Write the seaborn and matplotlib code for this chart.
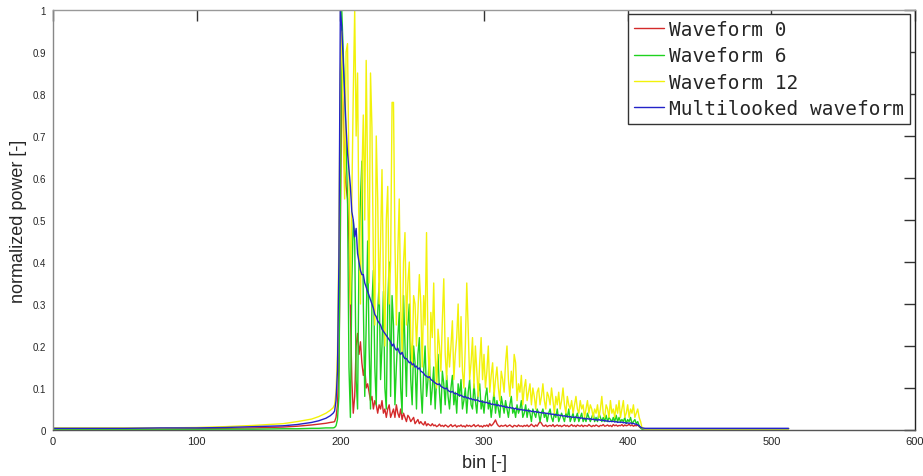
import numpy as np
import pandas as pd
import matplotlib
matplotlib.use("Agg")
import matplotlib.pyplot as plt
import seaborn as sns
from matplotlib.ticker import FuncFormatter

# ---------------- data ----------------
bins_pre = [0, 25, 50, 75, 100, 120, 140, 160, 170, 180, 185, 190, 193, 195]
bins_mid = list(range(196, 411))
bins_post = [412, 430, 460, 490, 512]

wf0_pre = [.003, .003, .003, .003, .003, .004, .005, .007, .009, .012, .014, .016, .018, .019]
wf0_mid = [
    .02, .03, .06, .15, .45, .86, .75, .62, .58, .55,
    .45, .28, .12, .04, .08, .20, .23, .18, .21, .16,
    .13, .15, .10, .11, .09, .07, .08, .05, .07, .06,
    .04, .06, .05, .07, .04, .05, .03, .05, .06, .03,
    .04, .05, .03, .06, .04, .03, .05, .025, .04, .03,
    .02, .035, .03, .02, .025, .03, .015, .02, .025, .015,
    .02, .015, .012, .02, .01, .015, .012, .01, .015, .01,
    .012, .008, .01, .014, .009, .011, .008, .012, .01, .007,
    .01, .013, .008, .01, .012, .007, .01, .009, .012, .008,
    .01, .007, .012, .009, .011, .008, .01, .013, .008, .01,
    .012, .008, .01, .007, .011, .009, .012, .008, .015, .01,
    .013, .018, .024, .015, .01, .008, .011, .009, .01, .012,
    .008, .01, .012, .009, .007, .011, .01, .008, .012, .009,
    .01, .008, .011, .009, .012, .008, .01, .014, .01, .008,
    .012, .009, .015, .02, .016, .01, .009, .012, .008, .01,
    .011, .009, .013, .008, .01, .012, .009, .011, .008, .01,
    .012, .009, .011, .008, .01, .013, .009, .011, .008, .012,
    .01, .009, .012, .008, .011, .01, .009, .013, .01, .008,
    .011, .009, .012, .01, .008, .011, .01, .013, .009, .01,
    .012, .009, .011, .008, .013, .01, .012, .009, .011, .01,
    .013, .009, .012, .01, .011, .014, .01, .012, .009, .011,
    .01, .012, .008, .005, .003,
]
wf0_post = [.003, .003, .003, .003, .003]

wf6_pre = [.002, .002, .002, .002, .002, .002, .002, .003, .003, .004, .004, .005, .005, .005]
wf6_mid = [
    .006, .01, .025, .08, .55, 1.0, .90, .80, .68, .55,
    .15, .03, .35, .50, .45, .12, .05, .42, .55, .64,
    .30, .08, .25, .45, .20, .05, .30, .38, .15, .06,
    .28, .35, .12, .20, .33, .10, .05, .30, .40, .08,
    .32, .25, .06, .15, .22, .28, .10, .04, .32, .20,
    .08, .25, .30, .12, .06, .20, .16, .05, .18, .22,
    .10, .04, .14, .20, .08, .12, .17, .06, .10, .15,
    .05, .12, .18, .09, .04, .14, .11, .06, .13, .08,
    .05, .10, .13, .06, .09, .04, .11, .08, .12, .05,
    .07, .10, .04, .09, .12, .06, .05, .11, .07, .04,
    .09, .11, .05, .07, .04, .08, .10, .05, .07, .03,
    .06, .09, .04, .07, .05, .03, .08, .06, .04, .07,
    .05, .03, .06, .08, .04, .05, .03, .06, .04, .05,
    .07, .03, .04, .06, .03, .05, .04, .02, .05, .04,
    .03, .05, .04, .02, .04, .05, .03, .04, .02, .04,
    .05, .03, .02, .04, .03, .05, .02, .03, .04, .03,
    .02, .04, .03, .05, .02, .03, .04, .02, .03, .04,
    .02, .03, .04, .02, .03, .02, .04, .03, .02, .03,
    .04, .02, .03, .02, .04, .03, .02, .03, .02, .035,
    .02, .03, .025, .02, .03, .02, .035, .02, .03, .02,
    .025, .02, .03, .015, .025, .02, .03, .015, .02, .025,
    .015, .02, .01, .005, .002,
]
wf6_post = [.003, .003, .003, .003, .003]

wf12_pre = [.005, .005, .005, .005, .006, .008, .011, .015, .02, .026, .032, .04, .047, .053]
wf12_mid = [
    .06, .09, .18, .45, .85, .95, .70, .55, .90, .92,
    .60, .30, .55, .80, 1.0, .70, .85, .45, .30, .60,
    .75, .50, .88, .60, .35, .85, .72, .40, .25, .70,
    .55, .30, .45, .62, .35, .20, .50, .58, .30, .40,
    .78, .78, .45, .25, .42, .55, .30, .18, .40, .47,
    .25, .35, .40, .22, .15, .32, .30, .20, .28, .37,
    .30, .15, .32, .25, .47, .20, .12, .28, .22, .35,
    .18, .10, .24, .20, .14, .26, .36, .18, .12, .22,
    .15, .20, .26, .12, .18, .22, .30, .15, .27, .14,
    .10, .20, .35, .24, .12, .16, .22, .10, .20, .14,
    .08, .16, .22, .12, .18, .10, .14, .20, .09, .13,
    .16, .08, .12, .15, .10, .07, .14, .12, .09, .16,
    .20, .12, .08, .14, .10, .18, .16, .07, .11, .09,
    .13, .06, .10, .12, .07, .09, .11, .06, .10, .08,
    .05, .09, .10, .06, .08, .11, .07, .05, .09, .08,
    .06, .10, .07, .04, .08, .06, .09, .05, .07, .10,
    .06, .04, .08, .06, .05, .07, .04, .06, .08, .05,
    .04, .07, .05, .06, .03, .05, .07, .04, .06, .05,
    .03, .05, .04, .06, .03, .05, .08, .04, .03, .06,
    .05, .03, .07, .04, .05, .03, .06, .04, .07, .03,
    .05, .07, .03, .04, .06, .03, .05, .04, .06, .03,
    .04, .05, .03, .02, .005,
]
wf12_post = [.003, .003, .003, .003, .003]

multi_pre = [.004, .004, .004, .005, .005, .006, .008, .01, .013, .018, .022, .028, .034, .04]
multi_mid = [
    .045, .07, .14, .40, 1.0, .96, .88, .80, .72, .66,
    .62, .58, .52, .50, .46, .48, .42, .40, .38, .37,
    .37, .35, .34, .33, .32, .31, .30, .29, .275, .27,
    .26, .255, .25, .24, .235, .23, .225, .22, .215, .21,
    .20, .205, .195, .19, .195, .185, .18, .185, .175, .17,
    .17, .165, .16, .162, .155, .158, .15, .152, .145, .148,
    .14, .138, .135, .13, .128, .125, .127, .12, .118, .115,
    .112, .11, .108, .11, .104, .102, .1, .098, .1, .094,
    .092, .09, .092, .088, .086, .087, .084, .082, .083, .08,
    .078, .08, .076, .077, .074, .075, .072, .073, .07, .072,
    .07, .068, .069, .066, .067, .065, .066, .063, .064, .061,
    .062, .06, .061, .058, .06, .057, .058, .056, .057, .054,
    .055, .053, .054, .052, .053, .05, .052, .049, .05, .048,
    .049, .047, .048, .046, .047, .045, .046, .044, .045, .043,
    .044, .042, .043, .041, .042, .04, .041, .039, .04, .038,
    .039, .037, .038, .036, .037, .035, .036, .034, .035, .033,
    .034, .032, .033, .031, .032, .03, .031, .03, .031, .029,
    .03, .028, .029, .027, .028, .026, .027, .026, .027, .025,
    .026, .024, .025, .023, .025, .023, .024, .022, .023, .021,
    .022, .02, .021, .02, .021, .019, .02, .018, .019, .018,
    .019, .017, .018, .016, .017, .016, .017, .015, .016, .014,
    .014, .012, .01, .007, .005,
]
multi_post = [.004, .004, .004, .004, .004]

series_names = ["Waveform 0", "Waveform 6", "Waveform 12", "Multilooked waveform"]
series_colors = ["#d42a2a", "#1fd21f", "#f2f20a", "#2323c8"]
x_ticks = [0, 100, 200, 300, 400, 500, 600]
y_ticks = [0, 0.1, 0.2, 0.3, 0.4, 0.5, 0.6, 0.7, 0.8, 0.9, 1.0]

# ---------------- build table ----------------
all_bins = bins_pre + bins_mid + bins_post
frames = []
for name, (p, m, q) in zip(series_names, [
        (wf0_pre, wf0_mid, wf0_post),
        (wf6_pre, wf6_mid, wf6_post),
        (wf12_pre, wf12_mid, wf12_post),
        (multi_pre, multi_mid, multi_post)]):
    vals = p + m + q
    frames.append(pd.DataFrame({"bin": all_bins, "power": vals, "series": name}))
df = pd.concat(frames, ignore_index=True)

# ---------------- plot ----------------
sns.set_style("white")
plt.rcParams["font.family"] = ["Liberation Sans", "DejaVu Sans"]

fig = plt.figure(figsize=(9.23, 4.77), dpi=100)
ax = fig.add_axes([53 / 923, 1 - 431 / 477, 862 / 923, 420 / 477])

for name, col in zip(series_names, series_colors):
    sns.lineplot(data=df[df["series"] == name], x="bin", y="power", ax=ax,
                 color=col, linewidth=1.0, label=name, errorbar=None, sort=True)

ax.set_xlim(0, 600)
ax.set_ylim(0, 1)
ax.set_xticks(x_ticks)
ax.set_yticks(y_ticks)
ax.yaxis.set_major_formatter(FuncFormatter(lambda v, p: f"{v:g}"))
ax.tick_params(axis="both", direction="in", length=8, width=1, color="#333333",
               top=True, right=True, labelsize=8, pad=4)
ax.tick_params(axis="y", labelsize=7, pad=5)
for side, c in [("left", "#888888"), ("bottom", "#555555"), ("top", "#999999"), ("right", "#222222")]:
    ax.spines[side].set_visible(True)
    ax.spines[side].set_color(c)
    ax.spines[side].set_linewidth(1.0)

ax.set_xlabel("bin [-]", fontsize=13, labelpad=6)
ax.set_ylabel("normalized power [-]", fontsize=13, labelpad=4)

leg = ax.legend(loc="upper right", bbox_to_anchor=(0.994, 0.99), frameon=True,
                fancybox=False, shadow=False, framealpha=1, edgecolor="#333333",
                prop={"family": "DejaVu Sans Mono", "size": 14},
                handlelength=1.55, handletextpad=0.25, labelspacing=0.38,
                borderpad=0.3, borderaxespad=0)
leg.get_frame().set_linewidth(1.0)
for line in leg.get_lines():
    line.set_linewidth(1.0)

fig.savefig("out.png", dpi=100)
